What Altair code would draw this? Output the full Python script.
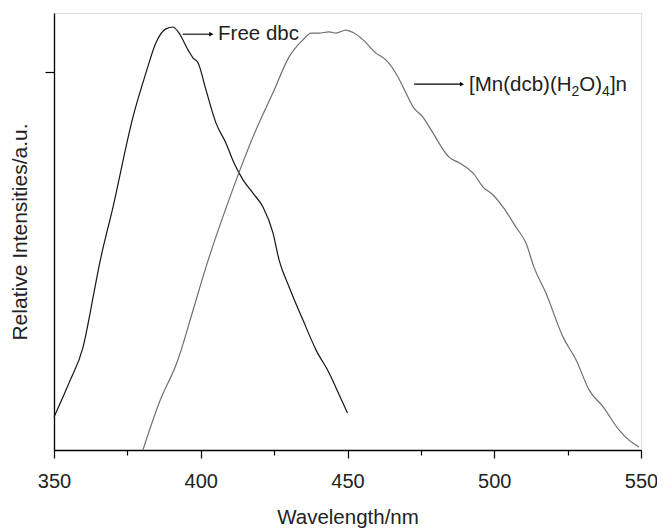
import altair as alt
import pandas as pd

# Free dbc emission spectrum (black)
free_wl = [350, 355.1, 359.9, 363.6, 365.3, 370.1, 376.9, 381.3, 384.7, 388.1, 390.5, 392.6,
           395.7, 397.4, 399.1, 401.8, 405.2, 408.6, 411.3, 414.4, 417.8, 421.2, 424.6, 426.7,
           430.1, 434.8, 439.3, 443.7, 446.1, 450]
free_int = [87, 177, 272, 415, 484, 642, 880, 996, 1076, 1113, 1118, 1102,
            1057, 1036, 1023, 951, 864, 811, 759, 714, 679, 642, 574, 502,
            431, 344, 264, 204, 164, 98]

# [Mn(dcb)(H2O)4]n emission spectrum (grey)
mn_wl = [380.3, 385.8, 392.2, 397.4, 401.8, 409.6, 418.8, 424.6, 430.1, 434.8, 437.6, 440.3,
         443.7, 446.1, 449.5, 452.2, 455.3, 459.7, 463.1, 467.2, 469.9, 472.3, 475.7, 479.1,
         484.6, 488.0, 492.8, 496.2, 499.6, 503.0, 507.4, 510.8, 513.5, 517.6, 523.4, 527.9,
         532.3, 537.1, 542.5, 545.9, 549.3]
mn_int = [0, 124, 238, 370, 484, 661, 846, 944, 1039, 1084, 1102, 1102,
          1105, 1102, 1110, 1102, 1084, 1049, 1031, 986, 944, 907, 880, 838,
          774, 759, 732, 695, 674, 642, 589, 547, 484, 415, 299, 238,
          159, 114, 53, 26, 8]

series_names = ["Free dbc", "Mn complex"]
series_colors = ["#151515", "#6f6f6f"]

major_ticks = [350, 400, 450, 500, 550]
minor_ticks = [375, 425, 475, 525]
y_tick = [1000]

# annotations: label anchors and arrows (data coordinates)
free_label = "Free dbc"
free_label_wl, free_label_int = 405.9, 1099
mn_label_parts = ["[Mn(dcb)(H", "2", "O)", "4", "]n"]
mn_label_wl, mn_label_int = 491.4, 967
arrow_start = [393.9, 472.7]
arrow_end = [403.6, 489.0]
arrow_int = [1099, 967]

FONT = "Liberation Sans"
BIG, SMALL = 20.5, 14
# pixel offsets of the label pieces (normal text, subscript, normal, subscript, normal)
part_style = [(0, 0, BIG), (102.5, 5, SMALL), (110.3, 0, BIG), (133.1, 5, SMALL), (140.9, 0, BIG)]

df = pd.concat([
    pd.DataFrame({"wl": free_wl, "val": free_int, "series": series_names[0]}),
    pd.DataFrame({"wl": mn_wl, "val": mn_int, "series": series_names[1]}),
])
arrows = pd.DataFrame({"a0": arrow_start, "a1": arrow_end, "val": arrow_int})

x_scale = alt.Scale(domain=[350, 550], nice=False, zero=False)
y_scale = alt.Scale(domain=[0, 1155], nice=False, zero=True)

y_axis = alt.Axis(values=y_tick, labels=False, tickSize=9, tickWidth=1.2,
                  domainWidth=1.3, domainColor="black", tickColor="black", grid=False,
                  title="Relative Intensities/a.u.", titleFont=FONT, titleFontSize=21,
                  titleFontWeight="normal", titleColor="#222", titlePadding=14)

lines = alt.Chart(df).mark_line(strokeWidth=1.2, interpolate="monotone").encode(
    x=alt.X("wl:Q", scale=x_scale,
            axis=alt.Axis(values=major_ticks, tickSize=8, tickWidth=1.2, domainWidth=1.3,
                          domainColor="black", tickColor="black", grid=False,
                          labelFont=FONT, labelFontSize=20, labelColor="#222",
                          labelFlush=False, labelOverlap=False,
                          labelPadding=13, title="Wavelength/nm", titleFont=FONT,
                          titleFontSize=20.5, titleFontWeight="normal", titleColor="#222",
                          titlePadding=16)),
    y=alt.Y("val:Q", scale=y_scale, axis=y_axis),
    color=alt.Color("series:N", scale=alt.Scale(domain=series_names, range=series_colors),
                    legend=None),
)

minor = alt.Chart(pd.DataFrame({"wl": minor_ticks})).mark_point(opacity=0).encode(
    x=alt.X("wl:Q", scale=x_scale,
            axis=alt.Axis(values=minor_ticks, orient="bottom", tickSize=5, tickWidth=1.2,
                          tickColor="black", labels=False, domain=False, grid=False, title=None)),
)

rules = alt.Chart(arrows).mark_rule(color="black", strokeWidth=1.1).encode(
    x=alt.X("a0:Q", scale=x_scale, axis=None), x2="a1:Q",
    y=alt.Y("val:Q", scale=y_scale, axis=y_axis)
)
heads = alt.Chart(arrows).mark_point(shape="triangle-right", filled=True, color="black",
                                     size=22, opacity=1).encode(
    x=alt.X("a1:Q", scale=x_scale, axis=None), y=alt.Y("val:Q", scale=y_scale, axis=y_axis)
)

text_layers = [
    alt.Chart(pd.DataFrame({"t": [free_label], "wl": [free_label_wl], "val": [free_label_int]}))
    .mark_text(align="left", baseline="middle", font=FONT, fontSize=BIG, color="#222")
    .encode(x=alt.X("wl:Q", scale=x_scale, axis=None),
            y=alt.Y("val:Q", scale=y_scale, axis=y_axis), text="t:N")
]
for part, (dx, dy, fs) in zip(mn_label_parts, part_style):
    text_layers.append(
        alt.Chart(pd.DataFrame({"t": [part], "wl": [mn_label_wl], "val": [mn_label_int]}))
        .mark_text(align="left", baseline="alphabetic", font=FONT, fontSize=fs, color="#222",
                   dx=dx, dy=7 + dy)
        .encode(x=alt.X("wl:Q", scale=x_scale, axis=None),
                y=alt.Y("val:Q", scale=y_scale, axis=y_axis), text="t:N")
    )

chart = alt.layer(lines, minor, rules, heads, *text_layers).resolve_axis(x="independent").properties(
    width=587, height=437,
    autosize=alt.AutoSizeParams(type="none"),
    padding={"left": 46, "top": 5, "right": 16, "bottom": 78},
).configure_view(stroke=None).configure(background="white")

chart.save("out.html", embed_options={"renderer": "svg", "actions": False})
